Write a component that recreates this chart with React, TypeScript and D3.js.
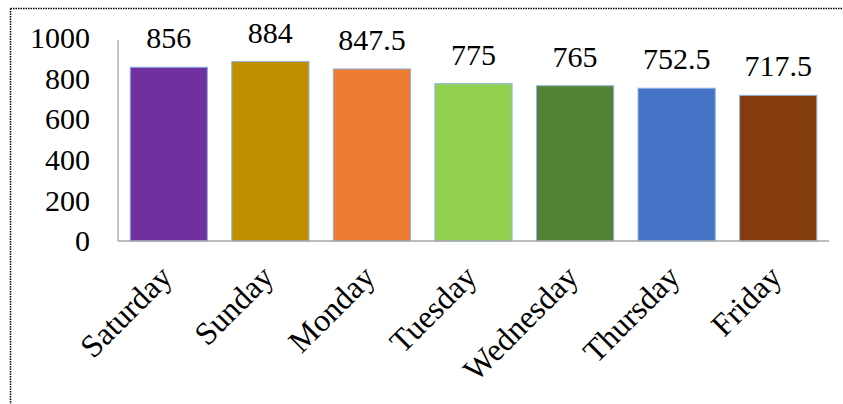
import { useRef, useEffect } from 'react'
import * as d3 from 'd3'

const days = ['Saturday', 'Sunday', 'Monday', 'Tuesday', 'Wednesday', 'Thursday', 'Friday']
const values = [856, 884, 847.5, 775, 765, 752.5, 717.5]
const colors = ['#7030A0', '#BF8F00', '#ED7D31', '#92D050', '#548235', '#4472C4', '#843C0C']
const yTicks = [0, 200, 400, 600, 800, 1000]

const App = () => {
  const ref = useRef<SVGSVGElement>(null)

  useEffect(() => {
    const totalWidth = 843,
      totalHeight = 404,
      margin = { left: 118, top: 38, right: 14, bottom: 163 },
      width = totalWidth - margin.left - margin.right,
      height = totalHeight - margin.top - margin.bottom

    const svg = d3.select(ref.current)
    svg.selectAll('*').remove()

    // frame (dotted, only top and left are visible)
    svg.append('line')
      .attr('x1', 10.5).attr('y1', 8.5).attr('x2', totalWidth).attr('y2', 8.5)
      .attr('stroke', '#000').attr('stroke-width', 1.5).attr('stroke-dasharray', '1.5,1')
    svg.append('line')
      .attr('x1', 10.5).attr('y1', 8.5).attr('x2', 10.5).attr('y2', totalHeight)
      .attr('stroke', '#000').attr('stroke-width', 1.5).attr('stroke-dasharray', '1.5,1')

    const x = d3.scaleBand<string>()
      .domain(days)
      .range([0, width])
      .paddingInner(0.24)
      .paddingOuter(0.12)

    const y = d3.scaleLinear()
      .domain([0, 1000])
      .range([height, 0])

    const plot = svg.append('g')
      .attr('transform', `translate(${margin.left}, ${margin.top})`)

    const font = '"Liberation Serif", "Times New Roman", serif'

    // bars
    plot.selectAll('rect.bar')
      .data(values)
      .enter()
      .append('rect')
        .attr('class', 'bar')
        .attr('x', (d, i) => x(days[i])!)
        .attr('y', d => y(d))
        .attr('width', x.bandwidth())
        .attr('height', d => height - y(d))
        .attr('fill', (d, i) => colors[i])
        .attr('stroke', '#8DB4E2')
        .attr('stroke-width', 1)

    // value labels
    plot.selectAll('text.value')
      .data(values)
      .enter()
      .append('text')
        .attr('class', 'value')
        .attr('x', (d, i) => x(days[i])! + x.bandwidth() / 2)
        .attr('y', d => y(d) - 19)
        .attr('text-anchor', 'middle')
        .attr('font-family', font)
        .attr('font-size', 30)
        .attr('fill', '#000')
        .text(d => String(d))

    // axes lines
    plot.append('line')
      .attr('x1', 0).attr('y1', 2).attr('x2', 0).attr('y2', height)
      .attr('stroke', '#A6A6A6').attr('stroke-width', 1.3)
    plot.append('line')
      .attr('x1', 0).attr('y1', height).attr('x2', width).attr('y2', height)
      .attr('stroke', '#A6A6A6').attr('stroke-width', 1.3)

    // y tick labels
    plot.selectAll('text.ytick')
      .data(yTicks)
      .enter()
      .append('text')
        .attr('class', 'ytick')
        .attr('x', -28)
        .attr('y', d => y(d))
        .attr('dy', '0.34em')
        .attr('text-anchor', 'end')
        .attr('font-family', font)
        .attr('font-size', 30)
        .attr('fill', '#000')
        .text(d => String(d))

    // x labels rotated
    plot.selectAll('text.xtick')
      .data(days)
      .enter()
      .append('text')
        .attr('class', 'xtick')
        .attr('transform', d => `translate(${x(d)! + x.bandwidth() / 2 + 5}, ${height + 38}) rotate(-45)`)
        .attr('text-anchor', 'end')
        .attr('font-family', font)
        .attr('font-size', 32)
        .attr('fill', '#000')
        .text(d => d)
  }, [])

  return (
    <svg ref={ref} width={843} height={404}
      style={{ position: 'absolute', left: 0, top: 0, background: '#fff' }} />
  )
}

export default App
